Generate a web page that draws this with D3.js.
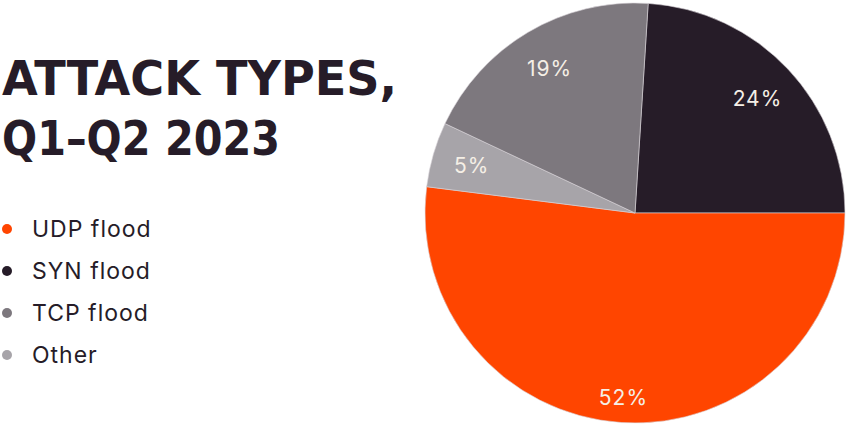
<!DOCTYPE html>
<html><head><meta charset="utf-8">
<script src="https://cdn.jsdelivr.net/npm/d3@7"></script>
<style>body{margin:0;background:#fff}svg{display:block}</style>
</head><body>
<svg id="c" width="850" height="425"></svg>
<script>
const titleLines = ["ATTACK TYPES,", "Q1–Q2 2023"];
const categories = ["SYN flood", "UDP flood", "Other", "TCP flood"];
const values = [24, 52, 5, 19];
const colors = ["#261c28", "#ff4500", "#a7a4a9", "#7d787e"];
const legendOrder = ["UDP flood", "SYN flood", "TCP flood", "Other"];

const svg = d3.select("#c");
const cx = 635, cy = 213, R = 210;
const data = categories.map((c, i) => ({cat: c, value: values[i], color: colors[i]}));
const total = d3.sum(values);
const offset = (values[0] / total) * 2 * Math.PI;
const pie = d3.pie().sort(null).value(d => d.value)
  .startAngle(Math.PI / 2 - offset).endAngle(Math.PI / 2 - offset + 2 * Math.PI);
const arc = d3.arc().innerRadius(0).outerRadius(R);
const g = svg.append("g").attr("transform", `translate(${cx},${cy})`);
const arcs = pie(data);
g.selectAll("path").data(arcs).join("path")
  .attr("d", arc).attr("fill", d => d.data.color)
  .attr("stroke", "#d8d4d8").attr("stroke-width", 0.6);

const labelR = {"SYN flood": 0.8, "UDP flood": 0.88, "Other": 0.81, "TCP flood": 0.8};
g.selectAll("text").data(arcs).join("text")
  .attr("transform", d => {
    const a = (d.startAngle + d.endAngle) / 2;
    const r = R * labelR[d.data.cat];
    return `translate(${r * Math.sin(a)},${-r * Math.cos(a)})`;
  })
  .attr("text-anchor", "middle").attr("dy", "0.36em")
  .attr("font-family", "Inter, 'Noto Sans', sans-serif")
  .attr("font-size", 21).attr("letter-spacing", 1).attr("fill", "#f5efe6")
  .text(d => d.data.value + "%");

const titleW = [395, 278];
svg.selectAll("text.title").data(titleLines).join("text").attr("class", "title")
  .attr("x", 2).attr("y", (d, i) => 95 + i * 60)
  .attr("font-family", "'DejaVu Sans', sans-serif").attr("font-weight", 700)
  .attr("font-size", 48).attr("fill", "#261c28")
  .attr("textLength", (d, i) => titleW[i]).attr("lengthAdjust", "spacingAndGlyphs")
  .text(d => d);

const leg = svg.selectAll("g.leg").data(legendOrder).join("g").attr("class", "leg")
  .attr("transform", (d, i) => `translate(0,${229 + i * 42})`);
leg.append("circle").attr("cx", 7).attr("cy", 0).attr("r", 5)
  .attr("fill", d => colors[categories.indexOf(d)]);
leg.append("text").attr("x", 32).attr("dy", "0.36em")
  .attr("font-family", "Inter, 'Noto Sans', sans-serif").attr("font-size", 23)
  .attr("letter-spacing", 1).attr("fill", "#261c28").text(d => d);
</script>
</body></html>
